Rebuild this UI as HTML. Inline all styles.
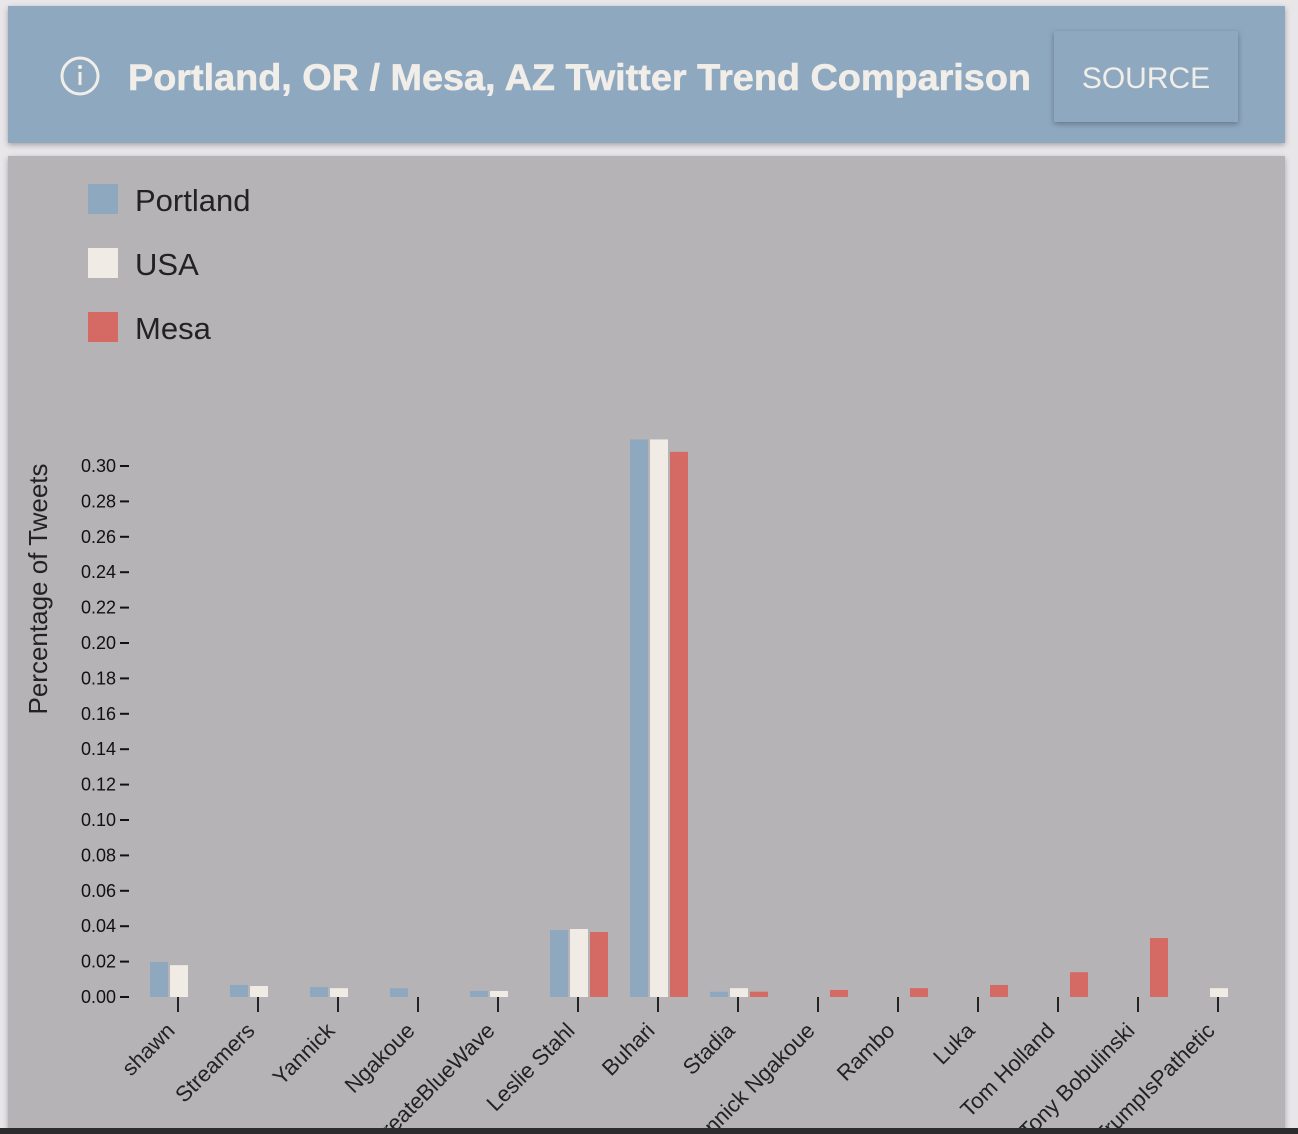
<!DOCTYPE html>
<html><head><meta charset="utf-8"><style>
html,body{margin:0;padding:0;background:#e8e6e9;width:1298px;height:1134px;overflow:hidden;font-family:"Liberation Sans",sans-serif}
</style></head><body>
<svg id="chart" width="1298" height="1134" xmlns="http://www.w3.org/2000/svg">
<defs>
<filter id="sh" x="-5%" y="-5%" width="110%" height="120%"><feDropShadow dx="0" dy="2" stdDeviation="3" flood-color="#000" flood-opacity="0.3"/></filter>
</defs>
<rect x="0" y="0" width="1298" height="1134" fill="#e8e6e9"/>
<rect x="8" y="156" width="1277" height="980" fill="#b5b3b6" filter="url(#sh)"/>
<rect x="8" y="6" width="1277" height="137" fill="#8ea8c0" filter="url(#sh)"/>
<g>
<circle cx="80" cy="76" r="18" fill="none" stroke="#f1ede8" stroke-width="3"/>
<rect x="78.5" y="72" width="3" height="13" fill="#f1ede8"/><circle cx="80" cy="67" r="2" fill="#f1ede8"/>
</g>
<text x="128" y="90" font-size="37" font-weight="bold" fill="#f1ede8" stroke="#f1ede8" stroke-width="0.6" textLength="903" lengthAdjust="spacingAndGlyphs">Portland, OR / Mesa, AZ Twitter Trend Comparison</text>
<g>
<rect x="1054" y="31" width="184" height="91" fill="#8ea8c0" filter="url(#sh)"/>
<text x="1146" y="88" font-size="30" fill="#f1ede8" text-anchor="middle">SOURCE</text>
</g>
<g id="legend"></g>
<g id="plot"></g>
<rect x="0" y="1128" width="1298" height="6" fill="#2c2c2e"/>
</svg>
<script>
const categories=["shawn","Streamers","Yannick","Ngakoue","CreateBlueWave","Leslie Stahl","Buhari","Stadia","Yannick Ngakoue","Rambo","Luka","Tom Holland","Tony Bobulinski","TrumpIsPathetic"];
const portland=[0.0198,0.0068,0.0056,0.005,0.0034,0.0378,0.315,0.003,0,0,0,0,0,0];
const usa=[0.018,0.0062,0.005,0,0.0034,0.0384,0.315,0.005,0,0,0,0,0,0.005];
const mesa=[0,0,0,0,0,0.0367,0.308,0.003,0.004,0.005,0.0068,0.014,0.0333,0];
const yTicks=[0,0.02,0.04,0.06,0.08,0.10,0.12,0.14,0.16,0.18,0.20,0.22,0.24,0.26,0.28,0.30];
const seriesNames=["Portland","USA","Mesa"];
const colors=["#8ea8c0","#f1ebe5","#d46a63"];
const NS="http://www.w3.org/2000/svg";
const y0=997,yk=531/0.30;
const y=v=>y0-v*yk;
const x=i=>178+i*80;
function mk(t,a,p){const e=document.createElementNS(NS,t);for(const k in a)e.setAttribute(k,a[k]);(p||document.getElementById('plot')).appendChild(e);return e;}
const lg=document.getElementById('legend');
seriesNames.forEach((n,i)=>{
 const r=mk('rect',{x:88,y:184+i*64,width:30,height:30,fill:colors[i]},lg);
 
 
 const t=mk('text',{x:135,y:211+i*64,'font-size':31,fill:'#222'},lg);t.textContent=n;
 
 
});
yTicks.forEach(v=>{
 const t=mk('text',{x:116,y:y(v)+6,'font-size':18,fill:'#111','text-anchor':'end'});t.textContent=v.toFixed(2);
 
 
 mk('line',{x1:120,x2:129,y1:y(v),y2:y(v),stroke:'#111','stroke-width':2});
});
const yt=mk('text',{x:47,y:589,'font-size':26,fill:'#222','text-anchor':'middle',transform:'rotate(-90 47 589)'});yt.textContent='Percentage of Tweets';


const data=[portland,usa,mesa];
categories.forEach((c,i)=>{
 data.forEach((s,j)=>{
  if(s[i]>0){const b=mk('rect',{x:x(i)-28+j*20,y:y(s[i]),width:18,height:y0-y(s[i]),fill:colors[j]});
  
  }
 });
 mk('line',{x1:x(i),x2:x(i),y1:997,y2:1012,stroke:'#222','stroke-width':2});
 const t=mk('text',{x:x(i)-2,y:1032,'font-size':22,fill:'#222','text-anchor':'end',transform:`rotate(-45 ${x(i)-2} 1032)`});t.textContent=c;
 
 
});
</script>
</body></html>
